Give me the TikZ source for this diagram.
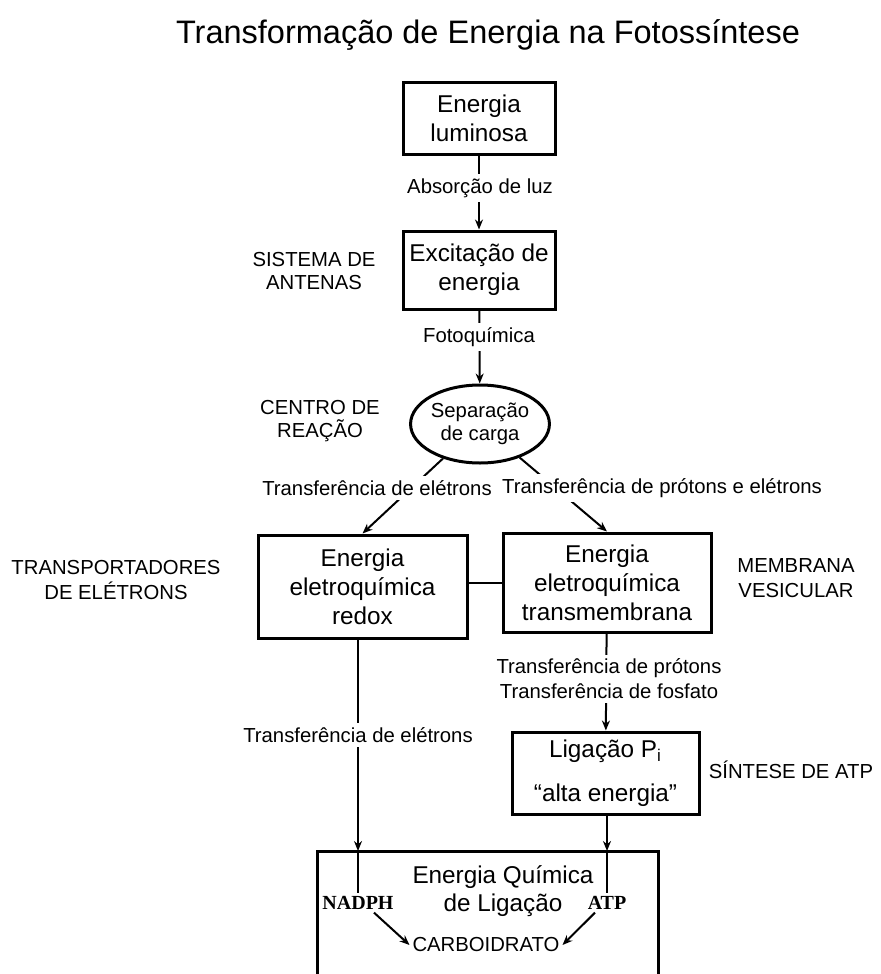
\documentclass[tikz,border=0pt]{standalone}
\usepackage{fontspec}
\setmainfont{Liberation Sans}
\newfontfamily\serifnote{Liberation Serif}
\usetikzlibrary{arrows.meta,shapes.geometric}

\begin{document}
\begin{tikzpicture}[x=.5pt,y=-.5pt,>={Stealth[length=5pt,width=4pt]},line width=1pt,
box/.style={draw,line width=1.5pt,inner sep=0pt,align=center,font=\fontsize{12.15}{14.5}\selectfont},
lab/.style={fill=white,inner sep=2pt,align=center,font=\fontsize{10.15}{12.5}\selectfont},
side/.style={align=center,font=\fontsize{10.15}{11.5}\selectfont}]
\useasboundingbox (0,0) rectangle (880,974);

\node (title) at (488,35) {\fontsize{16.25}{19}\selectfont Transformação de Energia na Fotossíntese};

\node[box,minimum width=76pt,minimum height=35.5pt] (b1) at (479,118.5) {Energia\\luminosa};
\node[box,minimum width=76pt,minimum height=39pt] (b2) at (479,270) {Excitação de\\energia};
\node[draw,ellipse,line width=1.5pt,inner sep=0pt,minimum width=62pt,minimum height=39pt,align=center,
  font=\fontsize{10.15}{11.5}\selectfont] (sep) at (480,424) {Separação\\de carga};
\node[box,minimum width=104.5pt,minimum height=51.5pt] (b3) at (362.5,586.5) {Energia\\eletroquímica\\redox};
\node[box,minimum width=104pt,minimum height=49.5pt] (b4) at (607,582.5) {Energia\\eletroquímica\\transmembrana};
\node[box,minimum width=93.5pt,minimum height=41pt,font=\fontsize{12.15}{22}\selectfont] (b5) at (605.5,773)
  {Ligação P\textsubscript{i}\\“alta energia”};
\coordinate (b6nw) at (317,851);
\coordinate (b6ne) at (658,851);
\draw[line width=1.5pt] (317,974) -- (b6nw) -- (b6ne) -- (658,974);

\node[side] (antenas) at (314,271) {SISTEMA DE\\ANTENAS};
\node[side] (centro) at (320,421) {CENTRO DE\\REAÇÃO};
\node[side,font=\fontsize{10.15}{12.5}\selectfont] (transp) at (116,580) {TRANSPORTADORES\\DE ELÉTRONS};
\node[side,font=\fontsize{10.15}{12.5}\selectfont] (membrana) at (796,578) {MEMBRANA\\VESICULAR};
\node[side] (sintese) at (791,770) {SÍNTESE DE ATP};

\node[box,draw=none,align=center,font=\fontsize{12.15}{14}\selectfont] (quimica) at (503,891) {Energia Química\\de Ligação};
\node[inner sep=1pt,font=\serifnote\bfseries\fontsize{10}{12}\selectfont] (nadph) at (358,903) {NADPH};
\node[inner sep=1pt,font=\serifnote\bfseries\fontsize{10}{12}\selectfont] (atp) at (607,903) {ATP};
\node[inner sep=1pt,font=\fontsize{10.15}{12}\selectfont] (carb) at (486,945) {CARBOIDRATO};

\draw[->] (b1) -- (b2);
\draw[->] (b2) -- (sep);
\draw[->] (sep) -- (b3.north);
\draw[->] (sep) -- (b4.north);
\draw (b3.east |- b4.west) -- (b4.west);
\draw[->] (b4) -- (b5);
\draw[->] (nadph |- b3.south) -- (nadph |- b6nw);
\draw (nadph |- b6nw) -- (nadph);
\draw[->] (atp |- b5.south) -- (atp |- b6ne);
\draw (atp |- b6ne) -- (atp);
\draw[->] ([xshift=8pt]nadph.south) -- (carb.west);
\draw[->] ([xshift=-6pt]atp.south) -- (carb.east);

\node[lab] (absorcao) at (480,188) {Absorção de luz};
\node[lab] (foto) at (479,337) {Fotoquímica};
\node[lab] (eletrons) at (377,488) {Transferência de elétrons};
\node[lab] (protons) at (662,488) {Transferência de prótons e elétrons};
\node[lab] (fosfato) at (609,679) {Transferência de prótons\\Transferência de fosfato};
\node[lab] (eletrons2) at (358,735) {Transferência de elétrons};
\end{tikzpicture}
\end{document}
